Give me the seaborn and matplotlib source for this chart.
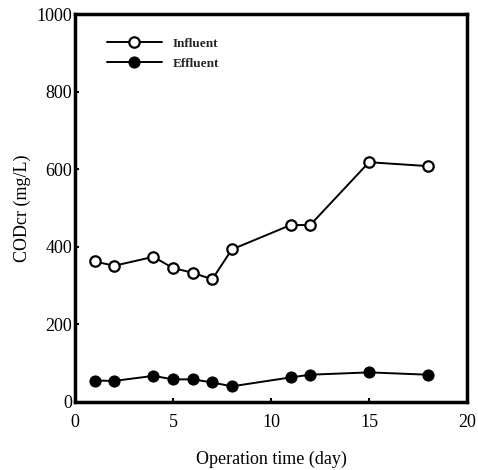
import matplotlib
matplotlib.use("Agg")
import matplotlib.pyplot as plt
import seaborn as sns
import pandas as pd

# Operation days and COD concentrations (mg/L)
days = [1, 2, 4, 5, 6, 7, 8, 11, 12, 15, 18]
influent = [362, 351, 374, 345, 333, 316, 393, 456, 456, 618, 608]
effluent = [55, 54, 67, 58, 58, 50, 40, 63, 70, 76, 70]

df = pd.DataFrame({"day": days, "Influent": influent, "Effluent": effluent})

sns.set_style("ticks")
plt.rcParams["font.family"] = ["Liberation Serif", "DejaVu Serif"]

fig = plt.figure(figsize=(4.78, 4.70), dpi=100)
ax = fig.add_axes([0.157, 0.145, 0.820, 0.825])

sns.lineplot(data=df, x="day", y="Influent", ax=ax, color="black", lw=1.4,
             marker="o", markersize=7.5, markerfacecolor="white",
             markeredgecolor="black", markeredgewidth=1.6, label="Influent")
sns.lineplot(data=df, x="day", y="Effluent", ax=ax, color="black", lw=1.4,
             marker="o", markersize=8, markerfacecolor="black",
             markeredgecolor="black", label="Effluent")

ax.set_xlim(0, 20)
ax.set_ylim(0, 1000)
ax.set_xticks([0, 5, 10, 15, 20])
ax.set_yticks([0, 200, 400, 600, 800, 1000])
ax.tick_params(direction="in", length=3, width=1.5, labelsize=13,
               colors="black")
ax.tick_params(axis="x", pad=9)
ax.tick_params(axis="y", pad=2)
for s in ax.spines.values():
    s.set_linewidth(2.5)
    s.set_color("black")
    s.set_visible(True)

ax.set_xlabel("Operation time (day)", fontsize=13, labelpad=14, color="black")
ax.set_ylabel("CODcr (mg/L)", fontsize=13, labelpad=4, color="black")

leg = ax.legend(loc="upper left", bbox_to_anchor=(0.05, 0.97), frameon=False,
                handlelength=4.2, labelspacing=0.6,
                prop={"weight": "bold", "size": 9.5})

fig.savefig("out.png", dpi=100)
